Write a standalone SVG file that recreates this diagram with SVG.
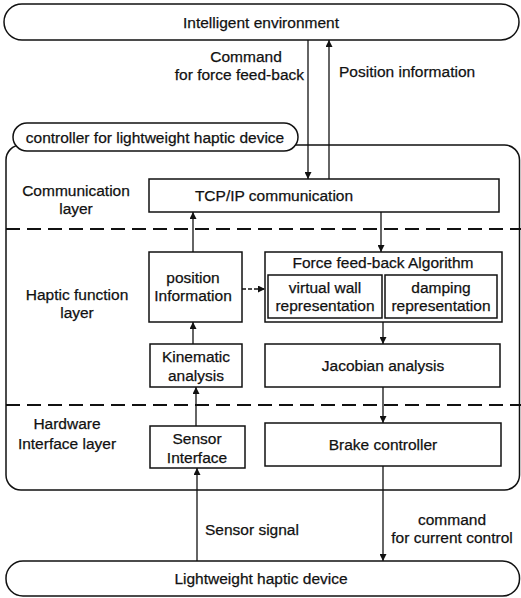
<svg xmlns="http://www.w3.org/2000/svg" width="521" height="598" viewBox="0 0 521 598">
<style>
text{font-family:"Liberation Sans",Arial,sans-serif;font-size:15.5px;fill:#111;stroke:#111;stroke-width:0.25;text-anchor:middle}
.l{text-anchor:start}
.r{text-anchor:end}
.box{fill:#fff;stroke:#111;stroke-width:1.5}
.ln{fill:none;stroke:#111;stroke-width:1.3}
.dash{fill:none;stroke:#111;stroke-width:2;stroke-dasharray:14 7}
</style>
<defs>
<marker id="ah" viewBox="0 0 10 10" refX="10" refY="5" markerWidth="9" markerHeight="7" markerUnits="userSpaceOnUse" orient="auto">
<path d="M0,0 L10,5 L0,10 z" fill="#111"/>
</marker>
</defs>
<g id="controller-frame">
<rect x="6" y="145" width="513.5" height="345" rx="15" class="box"/>
</g>
<g id="layers">
<line x1="6" y1="229" x2="521" y2="229" class="dash"/>
<line x1="6" y1="405" x2="521" y2="405" class="dash"/>
<text x="76" y="196">Communication</text>
<text x="76" y="214">layer</text>
<text x="77" y="300">Haptic function</text>
<text x="77" y="318">layer</text>
<text x="67" y="429">Hardware</text>
<text x="67" y="449">Interface layer</text>
</g>
<g id="intelligent-environment">
<rect x="4" y="4" width="515" height="36" rx="18" class="box"/>
<text x="261" y="28">Intelligent environment</text>
</g>
<g id="controller-label">
<rect x="13" y="123" width="285" height="28" rx="14" class="box"/>
<text x="155" y="143">controller for lightweight haptic device</text>
</g>
<g id="tcp">
<rect x="149" y="179" width="350" height="33" class="box"/>
<text x="274" y="201">TCP/IP communication</text>
</g>
<g id="position-info">
<rect x="149" y="252" width="93" height="70" class="box"/>
<text x="193" y="283">position</text>
<text x="193" y="301">Information</text>
</g>
<g id="force-feedback">
<rect x="265" y="252" width="237" height="70" class="box"/>
<text x="383" y="268">Force feed-back Algorithm</text>
<rect x="268" y="275" width="114" height="43" class="box"/>
<text x="325" y="293">virtual wall</text>
<text x="325" y="311">representation</text>
<rect x="385" y="275" width="112" height="43" class="box"/>
<text x="441" y="293">damping</text>
<text x="441" y="311">representation</text>
</g>
<g id="kinematic">
<rect x="150" y="344" width="92" height="43" class="box"/>
<text x="196" y="362">Kinematic</text>
<text x="196" y="381">analysis</text>
</g>
<g id="jacobian">
<rect x="265" y="344" width="235" height="43" class="box"/>
<text x="383" y="371">Jacobian analysis</text>
</g>
<g id="sensor-interface">
<rect x="150" y="426" width="95" height="42" class="box"/>
<text x="197" y="444">Sensor</text>
<text x="197" y="463">Interface</text>
</g>
<g id="brake">
<rect x="265" y="423" width="236" height="43" class="box"/>
<text x="383" y="450">Brake controller</text>
</g>
<g id="haptic-device">
<rect x="6" y="561" width="513.5" height="35" rx="17" class="box"/>
<text x="261" y="584">Lightweight haptic device</text>
</g>
<g id="connectors">
<line x1="308" y1="40" x2="308" y2="179" class="ln" marker-end="url(#ah)"/>
<line x1="329" y1="179" x2="329" y2="40" class="ln" marker-end="url(#ah)"/>
<text x="246" y="62">Command</text>
<text x="304" y="80" class="r">for force feed-back</text>
<text x="339" y="77" class="l">Position information</text>
<line x1="193" y1="252" x2="193" y2="212" class="ln" marker-end="url(#ah)"/>
<line x1="381" y1="212" x2="381" y2="252" class="ln" marker-end="url(#ah)"/>
<line x1="242" y1="289" x2="265" y2="289" class="ln" stroke-dasharray="4 2" marker-end="url(#ah)"/>
<line x1="383" y1="322" x2="383" y2="344" class="ln" marker-end="url(#ah)"/>
<line x1="193" y1="344" x2="193" y2="322" class="ln" marker-end="url(#ah)"/>
<line x1="196" y1="426" x2="196" y2="387" class="ln" marker-end="url(#ah)"/>
<line x1="383" y1="387" x2="383" y2="423" class="ln" marker-end="url(#ah)"/>
<line x1="197" y1="561" x2="197" y2="468" class="ln" marker-end="url(#ah)"/>
<line x1="383" y1="466" x2="383" y2="561" class="ln" marker-end="url(#ah)"/>
<text x="205" y="535" class="l">Sensor signal</text>
<text x="452" y="525">command</text>
<text x="452" y="543">for current control</text>
</g>
</svg>
